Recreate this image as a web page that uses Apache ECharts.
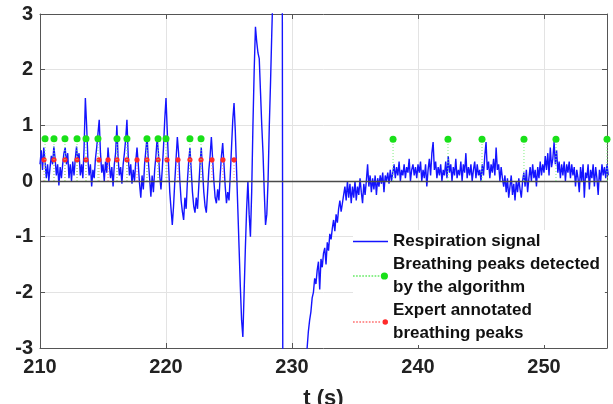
<!DOCTYPE html>
<html>
<head>
<meta charset="utf-8">
<script src="https://cdn.jsdelivr.net/npm/echarts@6/dist/echarts.min.js"></script>
<style>html,body{margin:0;padding:0;background:#fff;}#chart{width:613px;height:404px;}</style>
</head>
<body>
<div id="chart"></div>
<script>
// ---- data ----
const signalStart = 210.0;   // s, first sample
const signalStep = 0.1;      // s, sampling interval
const respirationSignal = [
  0.3, 0.55, 0.2, 0.6, 0.35, 0.05, 0.3, 0.0, 0.25, 0.45,
  0.3, 0.62, 0.4, 0.1, 0.3, -0.08, 0.25, 0.05, 0.3, 0.5,
  0.6, 0.3, 0.5, 0.05, 0.3, 0.0, 0.35, 0.1, 0.4, 0.62,
  0.35, 0.5, 0.1, 0.3, 0.05, 0.6, 1.49, 1.0, 0.4, 0.1,
  0.3, -0.1, 0.2, 0.05, 0.4, 0.6, 0.85, 1.1, 0.5, 0.15,
  0.3, 0.0, 0.35, 0.15, 0.6, 0.3, 0.05, 0.25, -0.1, 0.3,
  0.5, 1.0, 0.4, 0.1, 0.25, -0.05, 0.3, 0.5, 0.75, 1.1,
  0.45, 0.1, 0.3, -0.05, 0.2, 0.0, 0.35, 0.6, 0.3, -0.05,
  -0.3, 0.1, -0.15, 0.3, 0.55, 0.8, 0.35, 0.05, -0.28, 0.1,
  -0.2, 0.2, 0.45, 0.77, 0.5, 0.1, -0.15, 0.2, 0.6, 1.1,
  1.49, 0.9, 0.3, -0.2, -0.5, -0.79, -0.45, 0.0, 0.4, 0.79,
  0.5, 0.0, -0.35, -0.55, -0.7, -0.3, -0.5, 0.0, 0.35, 0.59,
  0.2, -0.2, -0.45, -0.57, -0.3, -0.5, -0.1, 0.3, 0.6, 0.2,
  -0.2, -0.45, -0.57, -0.2, 0.2, 0.45, 0.79, 0.4, 0.0, -0.3,
  -0.4, -0.15, -0.35, 0.1, 0.45, 0.68, 0.3, -0.1, -0.4, -0.2,
  -0.35, 0.1, 0.6, 1.1, 1.4, 0.9, 0.2, -0.5, -1.2, -1.9,
  -2.5, -2.8, -2.0, -1.2, -0.5, 0.0, -0.6, -1.0, -0.2, 1.0,
  2.0, 2.77, 2.5, 2.3, 2.2, 1.6, 1.0, 0.5, -0.2, -0.79,
  -0.6, 0.0, 1.0, 1.8, 2.7, 3.5, 4.5, 5.5, 6.5, 7.2,
  7.8, 8.2, 8.5, -8.5, -9, -9, -9, -9, -9, -9,
  -9, -9, -9, -9, -9, -8.5, -8, -7, -6, -5.5,
  -5, -4, -3.0, -2.7, -2.5, -2.35, -2.1, -2.0, -1.75, -1.85,
  -1.6, -1.45, -1.95, -1.4, -1.55, -1.3, -1.2, -1.5, -1.1, -1.25,
  -0.95, -1.05, -0.85, -0.7, -0.9, -0.6, -0.75, -0.5, -0.35, -0.55,
  -0.4, -0.25, -0.1, -0.35, 0.0, -0.3, -0.05, -0.4, -0.1, -0.3,
  0.0, -0.35, -0.1, -0.25, 0.05, -0.2, -0.4, -0.05, -0.25, 0.0,
  0.3, -0.1, 0.1, -0.2, 0.05, -0.15, 0.1, -0.25, 0.05, -0.1,
  0.1, -0.05, 0.15, -0.2, 0.1, 0.0, 0.15, -0.05, 0.2, 0.0,
  0.15, 0.3, 0.05, 0.25, 0.1, 0.35, 0.0, 0.2, 0.1, 0.3,
  0.05, 0.25, 0.15, 0.4, 0.0, 0.2, 0.3, 0.1, 0.25, 0.05,
  0.3, 0.15, 0.35, 0.0, 0.2, 0.05, 0.3, -0.1, 0.2, 0.4,
  0.1, 0.5, 0.7, 0.2, 0.35, 0.05, 0.25, 0.1, 0.3, 0.0,
  0.2, 0.1, 0.35, 0.05, 0.45, 0.15, 0.3, 0.0, 0.25, 0.1,
  0.4, 0.05, 0.2, 0.1, 0.35, 0.0, 0.3, 0.15, 0.5, 0.05,
  0.25, 0.1, 0.3, 0.0, 0.2, 0.35, 0.05, 0.3, 0.1, 0.2,
  0.0, 0.3, 0.1, 0.45, 0.7, 0.2, 0.35, 0.05, 0.3, 0.15,
  0.4, 0.1, 0.6, 0.2, 0.3, 0.0, 0.25, 0.05, -0.1, 0.1,
  -0.2, 0.05, -0.3, -0.1, 0.1, -0.25, -0.05, -0.35, 0.0, -0.2,
  0.05, -0.15, -0.3, 0.0, 0.15, -0.1, 0.2, -0.2, 0.05, 0.25,
  0.0, 0.3, 0.05, 0.2, -0.1, 0.25, 0.05, 0.35, 0.1, 0.3,
  0.15, 0.45, 0.2, 0.5, 0.1, 0.6, 0.25, 0.4, 0.7, 0.3,
  0.55, 0.15, 0.35, 0.05, 0.3, 0.1, 0.35, 0.0, 0.3, 0.15,
  0.35, 0.05, 0.3, 0.1, 0.25, -0.1, 0.2, 0.05, -0.2, 0.25,
  0.0, 0.3, -0.3, 0.15, 0.05, 0.3, -0.15, 0.2, 0.05, 0.3,
  -0.1, 0.25, 0.05, -0.25, 0.2, 0.0, 0.3, 0.1, 0.25, 0.05,
  0.3, 0.1
];
const detectedPeakTimes = [210.40, 211.11, 211.98, 212.94, 213.65, 214.60, 216.11, 216.90, 218.49, 219.37, 220.00, 221.90, 222.78,
                           238.02, 242.38, 245.08, 248.41, 250.95, 255.00];
const detectedPeakValues = [0.76, 0.76, 0.76, 0.76, 0.76, 0.76, 0.76, 0.76, 0.76, 0.76, 0.76, 0.76, 0.76,
                            0.75, 0.75, 0.75, 0.75, 0.75, 0.75];
const expertPeakTimes = [210.32, 211.11, 211.98, 212.94, 213.65, 214.68, 215.40, 216.11, 216.90, 217.70, 218.49, 219.37,
                         220.08, 220.95, 221.90, 222.78, 223.65, 224.52, 225.40];
const expertPeakValues = [0.38, 0.38, 0.38, 0.38, 0.38, 0.38, 0.38, 0.38, 0.38, 0.38, 0.38, 0.38,
                          0.38, 0.38, 0.38, 0.38, 0.38, 0.38, 0.38];
const xTicks = { min: 210, max: 255, step: 10 };
const yTicks = { min: -3, max: 3, step: 1 };
const seriesNames = ['Respiration signal', 'Breathing peaks detected by the algorithm', 'Expert annotated breathing peaks'];
const legendLabels = ['Respiration signal', 'Breathing peaks detected\nby the algorithm', 'Expert annotated\nbreathing peaks'];

// ---- build ----
const signalData = respirationSignal.map((v, i) => [signalStart + i * signalStep, v]);
const detectedData = detectedPeakTimes.map((t, i) => [t, detectedPeakValues[i]]);
const expertData = expertPeakTimes.map((t, i) => [t, expertPeakValues[i]]);

function stemRenderer(dotColor, stemColor, r) {
  return function (params, api) {
    const t = api.value(0), v = api.value(1);
    const base = api.coord([t, 0]);
    const top = api.coord([t, v]);
    return {
      type: 'group',
      children: [
        { type: 'line', shape: { x1: base[0], y1: base[1], x2: top[0], y2: top[1] },
          style: { stroke: stemColor, lineWidth: 1, lineDash: [1, 2] } },
        { type: 'circle', shape: { cx: top[0], cy: top[1], r: r }, style: { fill: dotColor } }
      ]
    };
  };
}

function dottedIcon(r) {
  let p = '';
  for (let i = 0; i < 9; i++) p += 'M' + (i * 3) + ',4.5h1.6v1h-1.6Z';
  const cx = 30.5;
  p += 'M' + (cx - r) + ',5a' + r + ',' + r + ' 0 1,0 ' + (2 * r) + ',0a' + r + ',' + r + ' 0 1,0 ' + (-2 * r) + ',0Z';
  return 'path://' + p;
}

const FONT = 'Liberation Sans, Arial, sans-serif';
const chart = echarts.init(document.getElementById('chart'), null, { renderer: 'canvas' });
const axisCommon = {
  axisLine: { show: true, onZero: false, lineStyle: { color: '#555', width: 1 } },
  axisTick: { show: true, inside: true, length: 5, lineStyle: { color: '#555' } }
};
chart.setOption({
  animation: false,
  backgroundColor: '#fff',
  grid: { left: 40, right: 6, top: 14, bottom: 56, show: false, containLabel: false, outerBoundsMode: 'none' },
  xAxis: [
    Object.assign({
      type: 'value', min: xTicks.min, max: xTicks.max, interval: xTicks.step, position: 'bottom',
      axisLabel: { fontSize: 20, fontWeight: 'bold', color: '#222', fontFamily: FONT, margin: 9, showMaxLabel: false },
      splitLine: { show: true, lineStyle: { color: '#e3e3e3', width: 1 } },
      name: 't (s)', nameLocation: 'middle', nameGap: 40,
      nameTextStyle: { fontSize: 22, fontWeight: 'bold', color: '#222', fontFamily: FONT }
    }, axisCommon),
    Object.assign({
      type: 'value', min: xTicks.min, max: xTicks.max, interval: xTicks.step, position: 'top',
      axisLabel: { show: false }, splitLine: { show: false }
    }, axisCommon)
  ],
  yAxis: [
    Object.assign({
      type: 'value', min: yTicks.min, max: yTicks.max, interval: yTicks.step, position: 'left',
      axisLabel: { fontSize: 20, fontWeight: 'bold', color: '#222', fontFamily: FONT, margin: 7 },
      splitLine: { show: true, lineStyle: { color: '#e3e3e3', width: 1 } }
    }, axisCommon),
    Object.assign({
      type: 'value', min: yTicks.min, max: yTicks.max, interval: yTicks.step, position: 'right',
      axisLabel: { show: false }, splitLine: { show: false }
    }, axisCommon)
  ],
  legend: {
    orient: 'vertical', left: 353, top: 230, itemGap: 0, itemWidth: 35, itemHeight: 10,
    backgroundColor: '#fff', padding: [0, 5, 0, 0], selectedMode: false,
    textStyle: { fontSize: 17, fontWeight: 'bold', color: '#111', fontFamily: FONT, lineHeight: 23 },
    formatter: name => legendLabels[seriesNames.indexOf(name)],
    data: [
      { name: seriesNames[0], icon: 'path://M0,0H35V1.4H0Z' },
      { name: seriesNames[1], icon: dottedIcon(3.5) },
      { name: seriesNames[2], icon: dottedIcon(2.6) }
    ]
  },
  series: [
    {
      name: seriesNames[0], type: 'line', data: signalData, showSymbol: false, symbol: 'none',
      lineStyle: { color: '#1414ff', width: 1.4 }, itemStyle: { color: '#1414ff' },
      clip: true, z: 2,
      markLine: {
        silent: true, symbol: 'none', label: { show: false },
        lineStyle: { color: '#4a4a4a', width: 1.3, type: 'solid' },
        data: [{ yAxis: 0 }]
      }
    },
    {
      name: seriesNames[2], type: 'custom', data: expertData, encode: { x: 0, y: 1 },
      itemStyle: { color: '#ff2a2a' }, z: 4,
      renderItem: stemRenderer('#ff2a2a', '#ff8080', 2.6)
    },
    {
      name: seriesNames[1], type: 'custom', data: detectedData, encode: { x: 0, y: 1 },
      itemStyle: { color: '#19e019' }, z: 5,
      renderItem: stemRenderer('#19e019', '#80ee80', 3.5)
    }
  ]
});
</script>
</body>
</html>
